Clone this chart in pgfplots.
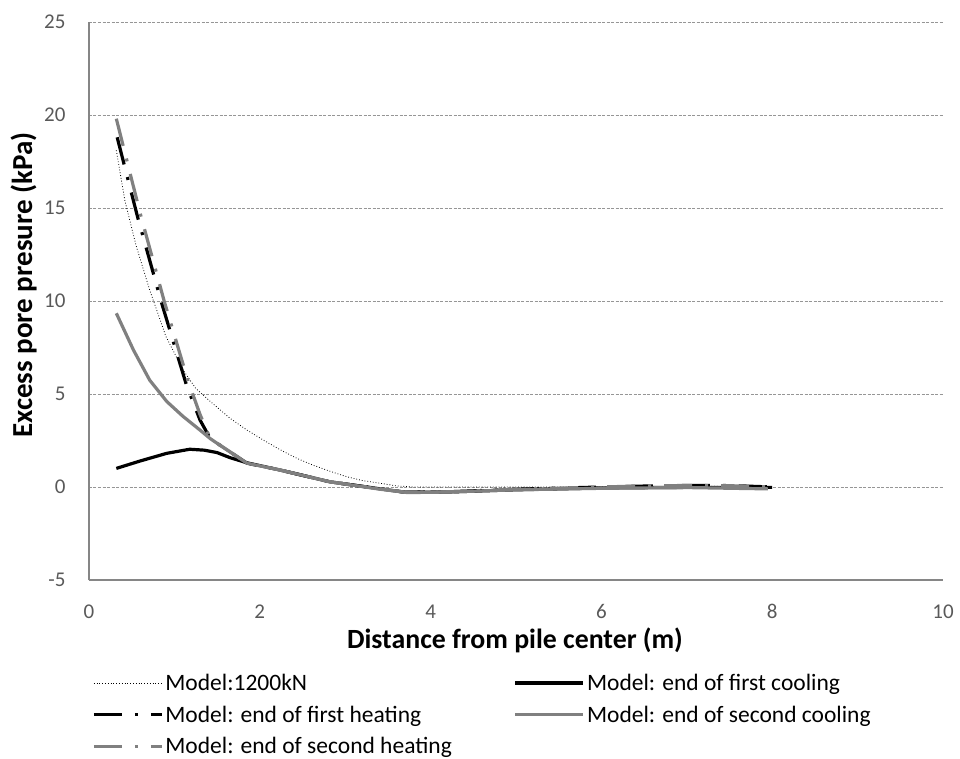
\documentclass[border=0pt]{standalone}
\usepackage{fontspec}
\setmainfont{Carlito}
\usepackage{pgfplots}
\pgfplotsset{compat=1.18}
\definecolor{lgray}{RGB}{128,128,128}
\definecolor{axgray}{RGB}{134,134,134}
\definecolor{gridgray}{RGB}{150,150,150}
\definecolor{tickgray}{RGB}{89,89,89}
\begin{document}
\begin{tikzpicture}[x=1pt,y=1pt]
\useasboundingbox (0,0) rectangle (960,758);
\begin{axis}[
  at={(89pt,178pt)}, anchor=south west,
  scale only axis, width=854pt, height=558pt,
  xmin=0, xmax=10, ymin=-5, ymax=25,
  xtick={0,2,...,10}, ytick={-5,0,...,25},
  axis x line=bottom, axis y line=left,
  axis line style={-, draw=axgray, line width=2.6pt},
  major tick length=0pt,
  ymajorgrids, grid style={dash pattern=on 3pt off 1.5pt, gridgray, line width=0.7pt},
  /pgf/number format/assume math mode=true,
  tick label style={font=\fontsize{21}{24}\selectfont, text=tickgray},
  yticklabel style={xshift=-20pt},
  xticklabel style={yshift=-21pt},
  xlabel={\textbf{Distance from pile center (m)}},
  ylabel={\textbf{Excess pore presure (kPa)}},
  xlabel style={at={(0.4988,-0.1219)}, anchor=base, font=\fontsize{27.8}{32}\selectfont},
  ylabel style={at={(-0.0667,0.5287)}, anchor=base, font=\fontsize{29}{34}\selectfont},
  legend columns=2,
  legend cell align=left,
  legend style={at={(0,-0.161)}, anchor=north west, draw=none, fill=none,
    font=\fontsize{23.5}{27}\selectfont, row sep=10pt,
    /tikz/column 2/.style={column sep=60pt}},
  legend image code/.code={\draw[#1] (0pt,0pt) -- (68pt,0pt);},
  every axis plot/.append style={line cap=butt}
]
% Model:1200kN
\addplot[black, line width=0.8pt, dotted] coordinates {
(0.32,18.1) (0.42,15.4) (0.55,13.0) (0.71,10.6) (0.9,8.1) (1.10,6.3) (1.25,5.3)
(1.42,4.6) (1.65,3.7) (1.85,3.06) (2.05,2.5) (2.24,2.0) (2.43,1.55) (2.62,1.18)
(2.82,0.85) (3.02,0.55) (3.2,0.35) (3.41,0.2) (3.6,0.06) (3.8,0.0) (4.5,0) (5,0)
(6,0) (7,0.04) (8,0.02)};
% first cooling
\addplot[black, line width=3.2pt] coordinates {
(0.32,1.0) (0.6,1.4) (0.91,1.81) (1.18,2.03) (1.35,1.98) (1.5,1.85) (1.65,1.58)
(1.85,1.3) (2.24,0.91) (2.82,0.28) (3.41,-0.1) (3.7,-0.28) (4.2,-0.27) (5,-0.15)
(6,-0.05) (7,-0.02) (8,-0.02)};
% first heating
\addplot[black, line width=3.2pt, dash pattern=on 28pt off 13pt on 3pt off 13pt] coordinates {
(0.33,18.8) (0.57,14.5) (0.85,9.9) (1.14,5.5) (1.30,3.6) (1.42,2.6) (1.5,2.35)
(1.85,1.28) (2.24,0.91) (2.82,0.28) (3.41,-0.1) (3.7,-0.28) (4.2,-0.26) (5,-0.12)
(6,0.0) (6.5,0.05) (7,0.08) (7.5,0.08) (8,0.0)};
% second cooling
\addplot[lgray, line width=3.2pt] coordinates {
(0.32,9.34) (0.52,7.37) (0.71,5.75) (0.91,4.6) (1.1,3.8) (1.3,3.06) (1.42,2.6)
(1.5,2.35) (1.85,1.28) (2.24,0.91) (2.82,0.28) (3.41,-0.12) (3.73,-0.3) (4.2,-0.27)
(5,-0.15) (6,-0.07) (7,-0.03) (7.95,-0.1)};
% second heating
\addplot[lgray, line width=3.2pt, dash pattern=on 28pt off 13pt on 3pt off 13pt] coordinates {
(0.32,19.8) (0.60,14.7) (0.88,10.0) (1.16,5.7) (1.30,3.9) (1.42,2.6) (1.5,2.35)
(1.85,1.28) (2.24,0.91) (2.82,0.28) (3.41,-0.1) (3.7,-0.28) (4.2,-0.26) (5,-0.12)
(6,0.0) (6.5,0.06) (7,0.08) (7.5,0.07) (8,0.0)};
\legend{Model:1200kN, Model: end of first cooling, Model: end of first heating,
Model: end of second cooling, Model: end of second heating}
\end{axis}
\end{tikzpicture}
\end{document}
